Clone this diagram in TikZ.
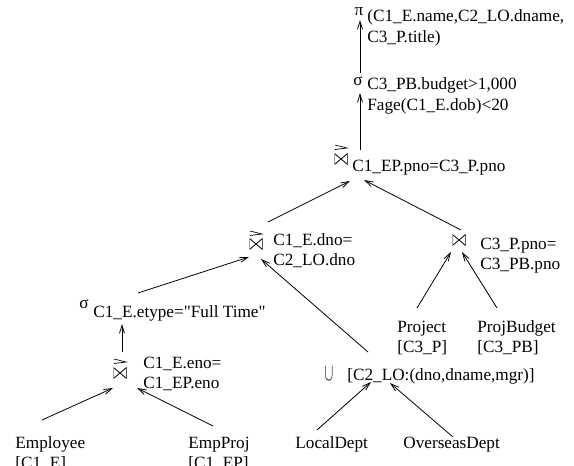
\documentclass[tikz,border=0pt]{standalone}
\usepackage{fontspec}
\setmainfont{Liberation Serif}[Ligatures=TeXOff]
\usetikzlibrary{arrows.meta}
\begin{document}
\begin{tikzpicture}[x=1pt,y=-1pt, line width=0.8pt,
  lbl/.style={anchor=base west, inner sep=0pt, font=\fontsize{17.2}{20}\selectfont},
  sym/.style={anchor=base, inner sep=0pt, font=\fontsize{17.2}{20}\selectfont},
  arr/.style={-{Straight Barb[length=8pt,width=5pt]}},
  bowtie/.style={minimum width=13pt, minimum height=11pt, inner sep=0pt,
    path picture={\draw[line width=0.8pt] (path picture bounding box.north west) -- (path picture bounding box.south west) -- (path picture bounding box.north east) -- (path picture bounding box.south east) -- cycle;}},
  harp/.pic={\draw[line width=0.7pt] (-6,-3) -- (6,0) -- (-6,1.5);}
]
\useasboundingbox (0,0) rectangle (574,466);

% projection
\node[sym] (pi) at (359,15) {π};
\node[lbl] (pi1) at (367,21) {(C1\_E.name,C2\_LO.dname,};
\node[lbl] (pi2) at (367,42) {C3\_P.title)};
% selection top
\node[sym] (sg1) at (358,85) {σ};
\node[lbl] (sg1a) at (367,89) {C3\_PB.budget>1,000};
\node[lbl] (sg1b) at (367,110) {Fage(C1\_E.dob)<20};
% top join
\node[bowtie] (j3) at (341,159) {};
\pic at (341,148) {harp};
\node[lbl] (j3a) at (352,171) {C1\_EP.pno=C3\_P.pno};
% dno join
\node[bowtie] (j2) at (256,244) {};
\pic at (256,234) {harp};
\node[lbl] (j2a) at (273,245) {C1\_E.dno=};
\node[lbl] (j2b) at (273,265) {C2\_LO.dno};
% pno join
\node[bowtie] (j4) at (459,240) {};
\node[lbl] (j4a) at (480,249) {C3\_P.pno=};
\node[lbl] (j4b) at (480,269) {C3\_PB.pno};
% selection etype
\node[sym] (sg2) at (84,308) {σ};
\node[lbl] (sg2a) at (93,317) {C1\_E.etype="Full Time"};
% eno join
\node[bowtie] (j1) at (120,373) {};
\pic at (120,362) {harp};
\node[lbl] (j1a) at (143,368) {C1\_E.eno=};
\node[lbl] (j1b) at (143,388) {C1\_EP.eno};
% leaves
\node[lbl] (emp) at (15,448) {Employee};
\node[lbl] (empb) at (15,468) {[C1\_E]};
\node[lbl] (ep) at (188,448) {EmpProj};
\node[lbl] (epb) at (188,468) {[C1\_EP]};
\node[sym] (un) at (329,380) {\scalebox{0.75}[1.4]{$\cup$}};
\node[lbl] (una) at (347,380) {[C2\_LO:(dno,dname,mgr)]};
\node[lbl] (ld) at (295,448) {LocalDept};
\node[lbl] (od) at (403,448) {OverseasDept};
\node[lbl] (pr) at (397,332) {Project};
\node[lbl] (prb) at (397,352) {[C3\_P]};
\node[lbl] (pb) at (477,332) {ProjBudget};
\node[lbl] (pbb) at (477,352) {[C3\_PB]};

% connector end points
\coordinate (pi-in) at (360,20);
\coordinate (sg1-out) at (360,73);
\coordinate (sg1-in) at (360,93);
\coordinate (j3-out) at (360,150);
\coordinate (j3-inl) at (350,181);
\coordinate (j3-inr) at (364,180);
\coordinate (j2-out) at (268,222);
\coordinate (j4-out) at (461,230);
\coordinate (j2-inl) at (249,257);
\coordinate (j2-inr) at (261,259);
\coordinate (sg2-out) at (138,293);
\coordinate (un-out) at (368,352);
\coordinate (sg2-in) at (122,324);
\coordinate (j1-out) at (122,352);
\coordinate (j1-inl) at (113,388);
\coordinate (j1-inr) at (137,388);
\coordinate (emp-out) at (42,420);
\coordinate (ep-out) at (213,426);
\coordinate (un-inl) at (371,382);
\coordinate (un-inr) at (390,383);
\coordinate (ld-out) at (317,430);
\coordinate (od-out) at (453,437);
\coordinate (j4-inl) at (451,252);
\coordinate (j4-inr) at (462,252);
\coordinate (pr-out) at (417,308);
\coordinate (pb-out) at (497,308);

\draw[arr] (sg1-out) -- (pi-in);
\draw[arr] (j3-out) -- (sg1-in);
\draw[arr] (j2-out) -- (j3-inl);
\draw[arr] (j4-out) -- (j3-inr);
\draw[arr] (sg2-out) -- (j2-inl);
\draw[arr] (un-out) -- (j2-inr);
\draw[arr] (j1-out) -- (sg2-in);
\draw[arr] (emp-out) -- (j1-inl);
\draw[arr] (ep-out) -- (j1-inr);
\draw[arr] (ld-out) -- (un-inl);
\draw[arr] (od-out) -- (un-inr);
\draw[arr] (pr-out) -- (j4-inl);
\draw[arr] (pb-out) -- (j4-inr);
\end{tikzpicture}
\end{document}
